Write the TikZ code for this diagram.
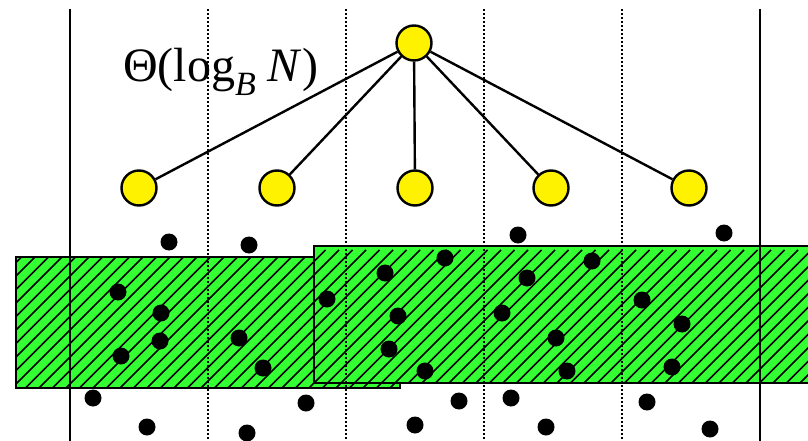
\documentclass[tikz,border=0pt]{standalone}
\usepackage{fontspec}
\setmainfont{Liberation Serif}
\definecolor{hgreen}{RGB}{51,255,51}
\begin{document}
\begin{tikzpicture}[x=1pt,y=-1pt,
  vline/.style={line width=2.4pt},
  dline/.style={line width=2.4pt, dash pattern=on 2pt off 2pt},
  bandborder/.style={line width=2.6pt},
  hatch/.style={line width=1.5pt},
  keynode/.style={circle, fill=yellow, draw=black, line width=2.4pt, minimum size=35pt, inner sep=0pt},
  tedge/.style={line width=2.4pt}]
\useasboundingbox (0,0) rectangle (808,441);
% left band
\fill[hgreen] (16,257) rectangle (400,388);
\begin{scope}
  \clip (16,257) rectangle (400,388);
  \foreach \i in {-12,...,32} \draw[hatch] (\i*13.5,400) -- ++(150,-150);
\end{scope}
\draw[bandborder] (16,257) rectangle (400,388);
% right band
\fill[hgreen] (314,246) rectangle (815,383);
\begin{scope}
  \clip (314,246) rectangle (815,383);
  \foreach \i in {10,...,62} \draw[hatch] (\i*13.5,400) -- ++(150,-150);
\end{scope}
\draw[bandborder] (314,246) rectangle (815,383);
% vertical separators
\draw[vline] (70,9) -- (70,441);
\draw[vline] (760,9) -- (760,441);
\foreach \x in {208,346,484,622} \draw[dline] (\x,9) -- (\x,441);
% label
\node[anchor=base west, inner sep=0pt] (lbl) at (123,82) {\fontsize{48}{54}\selectfont Θ(log\raisebox{-0.28em}{\fontsize{34}{34}\selectfont\textit{B}}\ \textit{N})};
% tree
\node[keynode] (r) at (414,43) {};
\node[keynode] (c1) at (139,188) {};
\node[keynode] (c2) at (277,188) {};
\node[keynode] (c3) at (415,188) {};
\node[keynode] (c4) at (551,188) {};
\node[keynode] (c5) at (689,188) {};
\foreach \c in {c1,c2,c3,c4,c5} \draw[tedge] (r) -- (\c);
% points
\foreach \p in {(169,242),(249,245),(118,292),(161,313),(160,341),(121,356),(239,338),(263,368),
  (327,299),(385,273),(398,316),(389,349),(93,398),(147,427),(247,433),(306,403),(415,425),
  (518,235),(724,233),(445,258),(425,371),(527,278),(592,261),(502,313),(556,338),(567,371),
  (642,300),(682,324),(672,367),(459,401),(511,398),(546,427),(647,402),(710,429)}
  \fill \p circle (8.5);
\end{tikzpicture}
\end{document}
